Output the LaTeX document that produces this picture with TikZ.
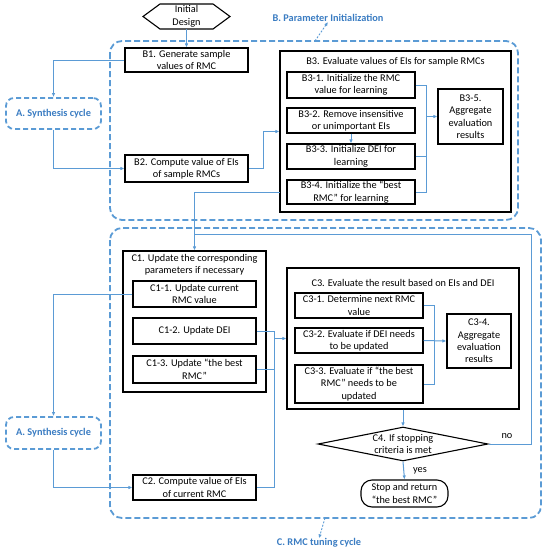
\documentclass[tikz,border=0pt]{standalone}
\usepackage{fontspec}
\setmainfont{Carlito}
\usetikzlibrary{arrows.meta,shapes.geometric,calc}
\definecolor{lblue}{HTML}{5B9BD5}
\definecolor{tblue}{HTML}{3A7CC2}
\begin{document}
\begin{tikzpicture}[x=1pt,y=-1pt,
  every node/.style={font=\fontsize{10.3}{12.4}\selectfont, inner sep=0pt, align=center},
  box/.style={draw=black, line width=1.1pt, minimum width=#1},
  box/.default=123pt,
  region/.style={draw=lblue, line width=1.8pt, dash pattern=on 6pt off 3pt, rounded corners=12pt},
  cyc/.style={draw=lblue, line width=1.8pt, dash pattern=on 5pt off 3pt, rounded corners=8pt, minimum width=95pt, minimum height=31pt, text=tblue, font=\fontsize{10.3}{12.4}\selectfont\bfseries},
  lbl/.style={text=tblue, font=\fontsize{10.3}{12.4}\selectfont\bfseries},
  line/.style={draw=lblue, line width=1pt},
  arr/.style={line, -{Latex[length=4pt,width=3.5pt]}},
  darr/.style={draw=lblue, line width=0.9pt, dash pattern=on 2pt off 1.5pt, -{Latex[length=4pt,width=3.5pt]}}
]
\useasboundingbox (0,0) rectangle (550,550);
% regions
\draw[region] (110,41) rectangle (518,220);
\draw[region] (110,228) rectangle (541,518);
\node[lbl] (Blbl) at (328,18) {B. Parameter Initialization};
\node[lbl] (Clbl) at (319,543) {C. RMC tuning cycle};
\coordinate (Bedge) at (315,41);
\coordinate (Cedge) at (325,518);
\draw[darr] (Bedge) -- (Blbl.south);
\draw[darr] (Cedge) -- (Clbl.north);
% initial design
\node[minimum width=87pt, minimum height=25pt] (init) at (186.5,16.5) {Initial\\Design};
\draw[line width=1.1pt] (143,16.5) -- (160,4) -- (213,4) -- (230,16.5) -- (213,29) -- (160,29) -- cycle;
% B part
\node[box, minimum height=24pt] (B1) at (186.5,60) {B1. Generate sample\\values of RMC};
\node[box, minimum height=27pt] (B2) at (186.5,168.5) {B2. Compute value of EIs\\of sample RMCs};
\node[box=231pt, minimum height=161pt] (B3) at (395.5,131.5) {};
\node (B3t) at (395.5,62) {B3. Evaluate values of EIs for sample RMCs};
\node[box=128pt, minimum height=26pt] (B31) at (351,85) {B3-1. Initialize the RMC\\value for learning};
\node[box=128pt, minimum height=25pt] (B32) at (351,120.5) {B3-2. Remove insensitive\\or unimportant EIs};
\node[box=128pt, minimum height=25pt] (B33) at (351,156.5) {B3-3. Initialize DEI for\\learning};
\node[box=128pt, minimum height=24pt] (B34) at (351,192) {B3-4. Initialize the “best\\RMC” for learning};
\node[box=65pt, minimum height=55pt] (B35) at (470.5,116.5) {B3-5.\\Aggregate\\evaluation\\results};
\node[cyc] (A1) at (53.5,113.5) {A. Synthesis cycle};
% C part
\node[box=143pt, minimum height=141pt] (C1) at (194.5,321.5) {};
\node (C1t) at (194.5,265) {C1. Update the corresponding\\parameters if necessary};
\node[box, minimum height=26pt] (C11) at (194.5,294) {C1-1. Update current\\RMC value};
\node[box, minimum height=26pt] (C12) at (194.5,331) {C1-2. Update DEI};
\node[box, minimum height=27pt] (C13) at (194.5,369.5) {C1-3. Update “the best\\RMC”};
\node[box, minimum height=25pt] (C2) at (194.5,487.5) {C2. Compute value of EIs\\of current RMC};
\node[cyc, minimum height=32pt] (A2) at (53.5,433) {A. Synthesis cycle};
\node[box=232pt, minimum height=141pt] (C3) at (403,338.5) {};
\node (C3t) at (403,283) {C3. Evaluate the result based on EIs and DEI};
\node[box=128pt, minimum height=25pt] (C31) at (359,305.5) {C3-1. Determine next RMC\\value};
\node[box=128pt, minimum height=25pt] (C32) at (359,340.5) {C3-2. Evaluate if DEI needs\\to be updated};
\node[box=128pt, minimum height=38pt] (C33) at (359,384) {C3-3. Evaluate if “the best\\RMC” needs to be\\updated};
\node[box=64pt, minimum height=54pt] (C34) at (479,341) {C3-4.\\Aggregate\\evaluation\\results};
\node[diamond, draw=black, line width=1.1pt, minimum width=170pt, minimum height=34pt, aspect=5] (C4) at (403,444) {};
\node (C4t) at (403,444) {C4. If stopping\\criteria is met};
\node[draw=black, line width=1.1pt, rounded corners=11pt, minimum width=87pt, minimum height=27pt] (T) at (404.5,493.5) {Stop and return\\“the best RMC”};
\node (yes) at (420,471) {yes};
\node (no) at (507,436) {no};
% connectors B
\draw[arr] (init.south) -- (B1.north);
\draw[arr] (B1.west) -| (A1.north);
\draw[arr] (A1.south) |- (B2.west);
\draw[arr] (B2.east) -- ++(15,0) |- (B3.west);
\draw[arr] (B32.south) -- (B33.north);
\coordinate (bj) at (426,116.5);
\draw[line] (B31.east) -| (B34.east -| bj) -- (B34.east);
\draw[line] (B33.east) -- (B33.east -| bj);
\draw[arr] (bj) -- (B35.west);
\coordinate (b3out) at (280,192);
\draw[arr] (b3out) -| (C1.north);
% connectors C
\coordinate (noturn) at (531,234);
\draw[line] (C4.east) -| (noturn) -- (noturn -| C1.north);
\draw[arr] (C11.west) -| (A2.north);
\draw[arr] (A2.south) |- (C2.west);
\coordinate (cj) at (274,338.5);
\draw[line] (C12.east) -| (C2.east -| cj) -- (C2.east);
\draw[line] (C13.east) -- (C13.east -| cj);
\draw[arr] (cj) -- (C3.west);
\coordinate (cj2) at (434,340.5);
\draw[line] (C31.east) -| (C33.east -| cj2) -- (C33.east);
\draw[arr] (C32.east) -- (C34.west);
\draw[arr] (C3.south) -- (C4.north);
\draw[arr] (C4.south) -- (T.north);
\end{tikzpicture}
\end{document}
